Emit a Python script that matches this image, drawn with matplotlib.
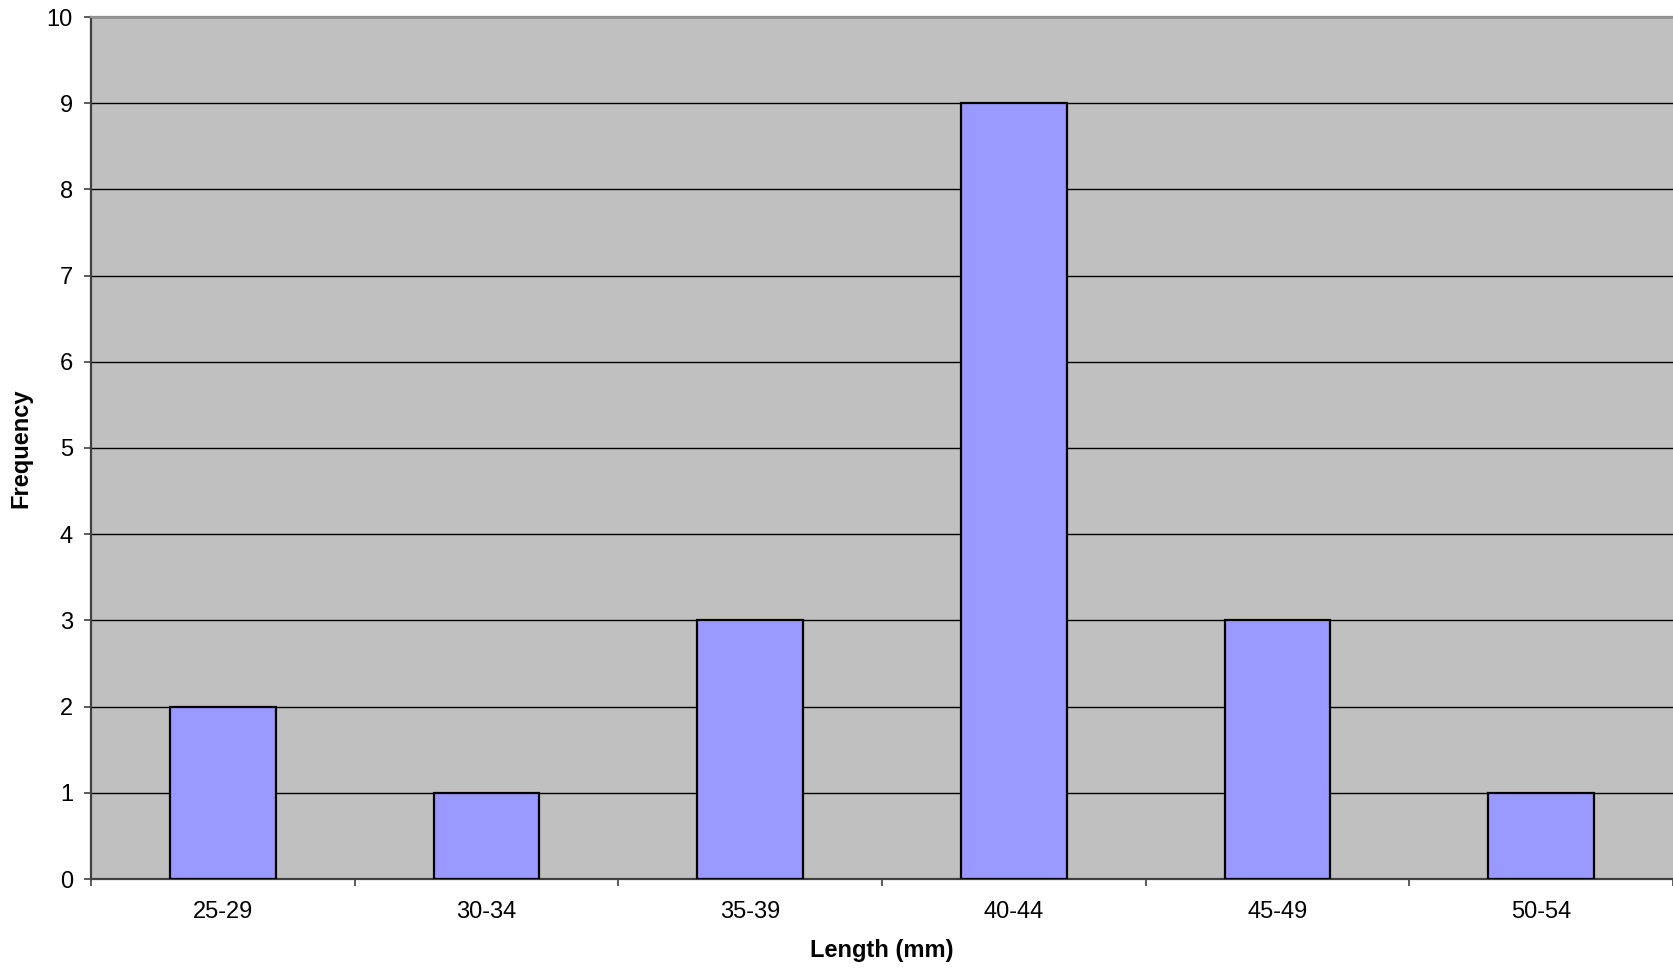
import matplotlib
matplotlib.use("Agg")
import matplotlib.pyplot as plt
import numpy as np

plt.rcParams['font.family'] = ['Liberation Sans', 'DejaVu Sans']

# Length classes and their counts
length_bins = ["25-29", "30-34", "35-39", "40-44", "45-49", "50-54"]
frequency = [2, 1, 3, 9, 3, 1]
y_ticks = list(range(0, 11))

W, H = 1673, 968
ax_left, ax_top, ax_bottom = 91, 17, 879
fig = plt.figure(figsize=(W / 100, H / 100), dpi=100)
ax = fig.add_axes([ax_left / W, (H - ax_bottom) / H, (W - ax_left) / W,
                   (ax_bottom - ax_top) / H])
ax.set_facecolor("#C0C0C0")

x = np.arange(len(length_bins))
ax.bar(x, frequency, width=0.4, color="#9999FF", edgecolor="black",
       linewidth=1.6, zorder=3)

ax.set_xlim(-0.5, len(length_bins) - 0.5)
ax.set_ylim(0, 10)
ax.set_yticks(y_ticks)
ax.yaxis.grid(True, color="black", linewidth=1.0, zorder=1)
ax.set_axisbelow(True)

# category labels centred, tick marks at the category boundaries
ax.set_xticks(x)
ax.set_xticklabels(length_bins, fontsize=17)
ax.set_xticks(np.arange(-0.5, len(length_bins) + 0.5, 1), minor=True)
ax.tick_params(axis="x", which="major", length=0, pad=16)
ax.tick_params(axis="x", which="minor", length=5, width=1.2, color="#404040",
               direction="out")
ax.tick_params(axis="y", length=5, width=1.2, color="#404040", labelsize=17,
               pad=8)

for side in ("left", "bottom"):
    ax.spines[side].set_color("#404040")
    ax.spines[side].set_linewidth(1.6)
ax.spines["top"].set_color("#909090")
ax.spines["top"].set_linewidth(1.6)
ax.spines["right"].set_visible(False)

ax_w = W - ax_left
ax_h = ax_bottom - ax_top
ax.set_xlabel("Length (mm)", fontsize=17, fontweight="bold", va="center")
ax.xaxis.set_label_coords(0.5, (ax_bottom - 950) / ax_h)
ax.set_ylabel("Frequency", fontsize=17, fontweight="bold", va="center")
ax.yaxis.set_label_coords((21 - ax_left) / ax_w, 0.5)

fig.savefig("out.png", dpi=100, facecolor="white")
